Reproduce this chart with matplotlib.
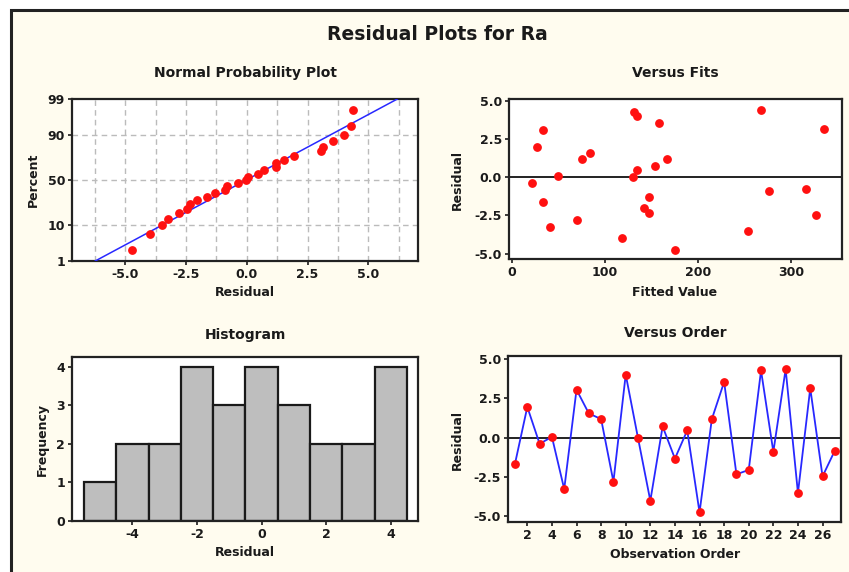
import numpy as np
import matplotlib
matplotlib.use("Agg")
import matplotlib.pyplot as plt
from matplotlib.patches import Rectangle
from statistics import NormalDist

plt.rcParams["axes.unicode_minus"] = False

# ---- data ----
order = list(range(1, 28))
residuals = [-1.64, 1.96, -0.38, 0.06, -3.26, 3.06, 1.55, 1.19, -2.79, 4.02,
             -0.02, -4.00, 0.72, -1.32, 0.47, -4.74, 1.19, 3.55, -2.32, -2.04,
             4.28, -0.89, 4.36, -3.51, 3.15, -2.45, -0.81]
fitted = [34, 27, 22, 50, 41, 34, 84, 76, 70, 135,
          130, 119, 154, 147, 135, 175, 167, 158, 148, 142,
          131, 276, 268, 254, 336, 327, 316]
pct_ticks = [1, 10, 50, 90, 99]
prob_xticks = [-5.0, -2.5, 0.0, 2.5, 5.0]
res_ticks = [-5.0, -2.5, 0.0, 2.5, 5.0]
fit_ticks = [0, 100, 200, 300]
hist_bins = np.arange(-5.5, 5.0, 1.0)
hist_ticks = [-4, -2, 0, 2, 4]
freq_ticks = [0, 1, 2, 3, 4]
order_ticks = list(range(2, 27, 2))

W, H = 849, 572
CREAM = "#FFFCEF"
RED = "#FF1010"
BLUE = "#2828FF"
TXT = "#1a1a1a"

fig = plt.figure(figsize=(W / 100, H / 100), dpi=100, facecolor="white")
fig.patches.append(Rectangle((11 / W, -0.1), 2.0, 1 - 10 / H + 0.1,
                             transform=fig.transFigure, facecolor=CREAM,
                             edgecolor="#222222", lw=2.2, zorder=-10))


def ax_px(left, top, right, bottom):
    return fig.add_axes([left / W, 1 - bottom / H, (right - left) / W, (bottom - top) / H])


def ftext(x, y, s, size=9, rot=0):
    fig.text(x / W, 1 - y / H, s, ha="center", va="center", fontsize=size,
             fontweight="bold", rotation=rot, color=TXT)


def style(ax):
    ax.set_facecolor("white")
    for sp in ax.spines.values():
        sp.set_linewidth(1.6)
        sp.set_color("#222222")
    ax.tick_params(direction="out", length=3, width=1.2, labelsize=9, colors=TXT, pad=2)
    for lab in ax.get_xticklabels() + ax.get_yticklabels():
        lab.set_fontweight("bold")


ftext(437, 35, "Residual Plots for Ra", size=13.5)

# ---- Normal probability plot ----
nd = NormalDist()
r = np.array(residuals)
n = len(r)
srt = np.sort(r)
pp = [(i + 1 - 0.375) / (n + 0.25) for i in range(n)]
zp = [nd.inv_cdf(p) for p in pp]
mu, sd = r.mean(), r.std(ddof=1)
zlo, zhi = nd.inv_cdf(0.01), nd.inv_cdf(0.99)

ax1 = ax_px(72, 99, 418, 261)
ax1.plot([mu + sd * zlo, mu + sd * zhi], [zlo, zhi], color=BLUE, lw=1.1, zorder=3)
ax1.plot(srt, zp, "o", color=RED, ms=5.3, zorder=4)
ax1.set_xlim(-7.2, 7.05)
ax1.set_ylim(zlo, zhi)
ax1.set_xticks(prob_xticks)
ax1.set_xticklabels([f"{v:.1f}" for v in prob_xticks])
ax1.set_yticks([nd.inv_cdf(p / 100) for p in pct_ticks])
ax1.set_yticklabels([str(p) for p in pct_ticks])
for gx in np.arange(-6.25, 6.3, 1.25):
    ax1.axvline(gx, color="#BBBBBB", lw=1.0, ls=(0, (4, 3)), zorder=1)
for p in [10, 50, 90]:
    ax1.axhline(nd.inv_cdf(p / 100), color="#BBBBBB", lw=1.0, ls=(0, (4, 3)), zorder=1)
style(ax1)
ftext(245, 73, "Normal Probability Plot", size=10)
ftext(245, 292, "Residual")
ftext(33, 180, "Percent", rot=90)

# ---- Versus fits ----
ax2 = ax_px(509, 99, 842, 259)
ax2.axhline(0, color="#222222", lw=1.4, zorder=2)
ax2.plot(fitted, residuals, "o", color=RED, ms=5.3, zorder=3)
ax2.set_xlim(-3, 355)
ax2.set_ylim(-5.35, 5.1)
ax2.set_xticks(fit_ticks)
ax2.set_yticks(res_ticks)
ax2.set_yticklabels([f"{v:.1f}" for v in res_ticks])
style(ax2)
ftext(675, 73, "Versus Fits", size=10)
ftext(675, 292, "Fitted Value")
ftext(457, 180, "Residual", rot=90)

# ---- Histogram ----
ax3 = ax_px(72, 357, 418, 521)
ax3.hist(residuals, bins=hist_bins, facecolor="#BEBEBE", edgecolor="#1a1a1a", lw=1.6, zorder=2)
ax3.set_xlim(-5.87, 4.84)
ax3.set_ylim(0, 4.25)
ax3.set_xticks(hist_ticks)
ax3.set_yticks(freq_ticks)
style(ax3)
ftext(245, 335, "Histogram", size=10)
ftext(245, 553, "Residual")
ftext(42, 440, "Frequency", rot=90)

# ---- Versus order ----
ax4 = ax_px(508, 356, 841, 522)
ax4.axhline(0, color="#222222", lw=1.4, zorder=2)
ax4.plot(order, residuals, "-", color=BLUE, lw=1.3, zorder=3)
ax4.plot(order, residuals, "o", color=RED, ms=5.3, zorder=4)
ax4.set_xlim(0.43, 27.5)
ax4.set_ylim(-5.35, 5.2)
ax4.set_xticks(order_ticks)
ax4.set_yticks(res_ticks)
ax4.set_yticklabels([f"{v:.1f}" for v in res_ticks])
style(ax4)
ftext(675, 333, "Versus Order", size=10)
ftext(675, 555, "Observation Order")
ftext(457, 440, "Residual", rot=90)

fig.savefig("out.png", dpi=100, facecolor=fig.get_facecolor())
